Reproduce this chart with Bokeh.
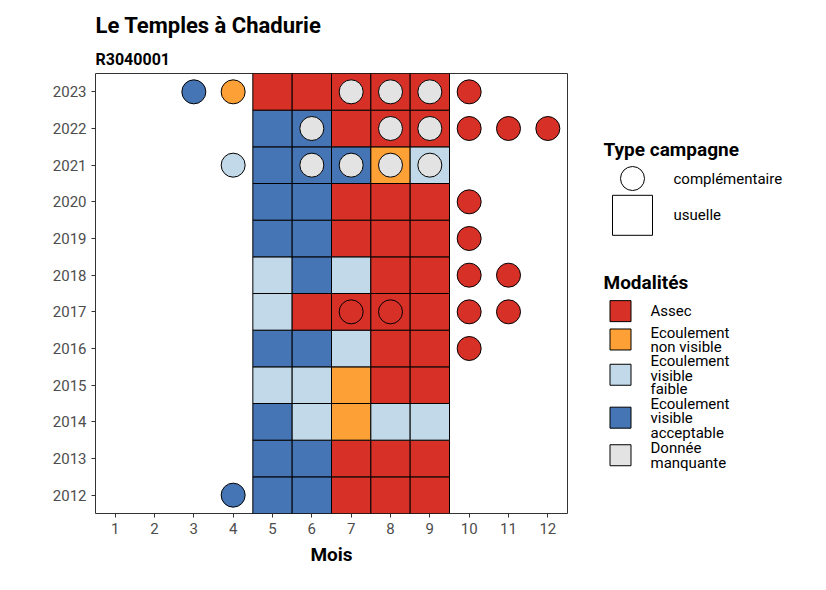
from bokeh.plotting import figure
from bokeh.layouts import row
from bokeh.models import Title, FixedTicker, Range1d
from bokeh.core.properties import value
from bokeh.embed import file_html
from bokeh.resources import INLINE

years = list(range(2012, 2024))
months_tiles = [5, 6, 7, 8, 9]
A, E, F, V, M = "Assec", "Ecoulement non visible", "Ecoulement visible faible", "Ecoulement visible acceptable", "Donnée manquante"
tiles = {
    2012: [V, V, A, A, A],
    2013: [V, V, A, A, A],
    2014: [V, F, E, F, F],
    2015: [F, F, E, A, A],
    2016: [V, V, F, A, A],
    2017: [F, A, A, A, A],
    2018: [F, V, F, A, A],
    2019: [V, V, A, A, A],
    2020: [V, V, A, A, A],
    2021: [V, V, V, E, F],
    2022: [V, V, A, A, A],
    2023: [A, A, A, A, A],
}
comp_year = [2023, 2023, 2023, 2023, 2023, 2023, 2022, 2022, 2022, 2022, 2022, 2022,
             2021, 2021, 2021, 2021, 2021, 2020, 2019, 2018, 2018, 2017, 2017, 2017, 2017, 2016, 2012]
comp_month = [3, 4, 7, 8, 9, 10, 6, 8, 9, 10, 11, 12,
              4, 6, 7, 8, 9, 10, 10, 10, 11, 7, 8, 10, 11, 10, 4]
comp_mod = [V, E, M, M, M, A, M, M, M, A, A, A,
            F, M, M, M, M, A, A, A, A, A, A, A, A, A, V]

modalities = [A, E, F, V, M]
mod_label_lines = [["Assec"], ["Ecoulement", "non visible"], ["Ecoulement", "visible", "faible"],
                   ["Ecoulement", "visible", "acceptable"], ["Donnée", "manquante"]]
colors = {A: "#D73027", E: "#FDA035", F: "#C1D9E8", V: "#4575B4", M: "#E3E3E3"}
month_ticks = list(range(1, 13))

FONT = "Roboto"

tx, ty, tc = [], [], []
for y in years:
    for m, mod in zip(months_tiles, tiles[y]):
        tx.append(m); ty.append(y); tc.append(colors[mod])

p = figure(width=575, height=574, x_range=(0.5, 12.5), y_range=(2011.5, 2023.5),
           output_backend="svg", toolbar_location=None, min_border_left=95, min_border_right=8,
           min_border_top=73, min_border_bottom=61)
p.add_layout(Title(text="R3040001", text_font=FONT, text_font_size="16px", text_font_style="bold",
                   text_color="black", standoff=10), "above")
p.add_layout(Title(text="Le Temples à Chadurie", text_font=FONT, text_font_size="22px",
                   text_font_style="bold", text_color="black"), "above")
p.rect(x=tx, y=ty, width=1, height=1, fill_color=tc, line_color="black", line_width=1)
p.scatter(x=comp_month, y=comp_year, size=24, fill_color=[colors[m] for m in comp_mod],
          line_color="black", line_width=1)
p.xgrid.visible = False
p.ygrid.visible = False
p.outline_line_color = "#333333"
p.xaxis.ticker = FixedTicker(ticks=month_ticks)
p.yaxis.ticker = FixedTicker(ticks=years)
p.xaxis.axis_label = "Mois"
for ax in (p.xaxis, p.yaxis):
    ax.axis_line_color = None
    ax.major_tick_line_color = "#333333"
    ax.major_tick_out = 4
    ax.major_tick_in = 0
    ax.minor_tick_line_color = None
    ax.major_label_text_font = FONT
    ax.major_label_text_font_size = "15px"
    ax.major_label_text_color = "#4D4D4D"
p.xaxis.axis_label_text_font = FONT
p.xaxis.axis_label_text_font_style = "bold"
p.xaxis.axis_label_text_font_size = "19px"
p.xaxis.axis_label_text_color = "black"
p.xaxis.axis_label_standoff = 6

# legend figure (coordinates in pixels from its top-left)
lg = figure(width=240, height=574, x_range=Range1d(0, 240), y_range=Range1d(574, 0),
            output_backend="svg", toolbar_location=None, min_border=0)
lg.axis.visible = False
lg.grid.visible = False
lg.outline_line_color = None
lg.text(x=[28, 28], y=[99, 272], text=["Type campagne", "Modalités"], text_font=value(FONT),
        text_font_size="19px", text_font_style="bold", text_baseline="middle")
lg.scatter(x=[57], y=[137], size=24, fill_color="white", line_color="black")
lg.scatter(x=[57], y=[185], marker="square", size=40, fill_color="white", line_color="black")
lg.text(x=[98, 98], y=[137, 185], text=["complémentaire", "usuelle"], text_font=value(FONT),
        text_font_size="15px", text_baseline="middle")
sq_y = [310, 347, 393, 449, 498]
line_y = [[310], [339, 357], [375, 394, 412], [431, 450, 469], [489, 508]]
lg.scatter(x=[45] * 5, y=sq_y, marker="square", size=21, fill_color=[colors[m] for m in modalities],
           line_color="black")
lx, lyy, lt = [], [], []
for lines, ys in zip(mod_label_lines, line_y):
    for t, yy in zip(lines, ys):
        lx.append(75); lyy.append(yy); lt.append(t)
lg.text(x=lx, y=lyy, text=lt, text_font=value(FONT), text_font_size="15px", text_baseline="middle")

layout = row(p, lg)
open("out.html", "w").write(file_html(layout, INLINE))
